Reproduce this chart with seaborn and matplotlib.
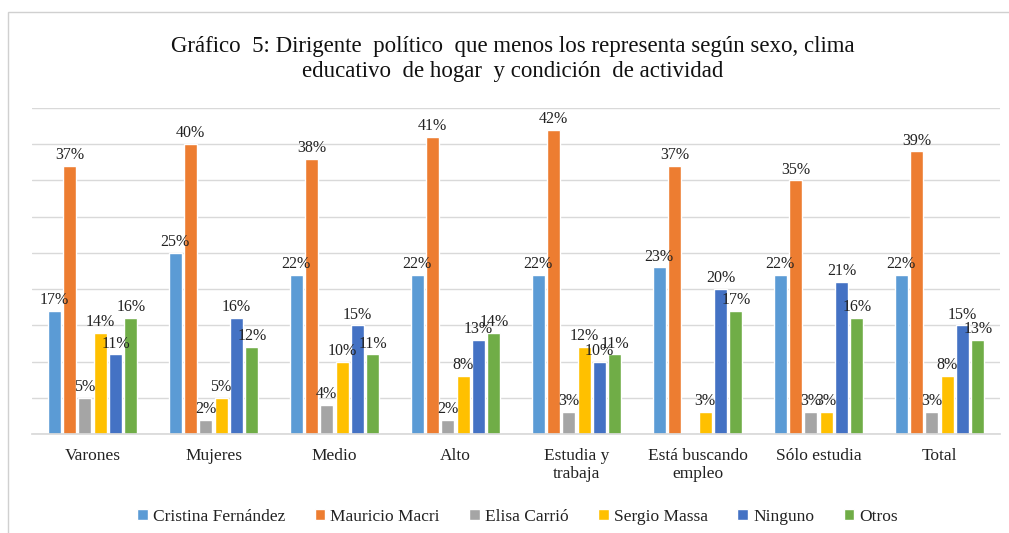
import matplotlib
matplotlib.use("Agg")
import matplotlib.pyplot as plt
import seaborn as sns
import pandas as pd
from matplotlib.patches import Rectangle

categorias = ["Varones", "Mujeres", "Medio", "Alto", "Estudia y\ntrabaja",
              "Está buscando\nempleo", "Sólo estudia", "Total"]
series = ["Cristina Fernández", "Mauricio Macri", "Elisa Carrió",
          "Sergio Massa", "Ninguno", "Otros"]
cristina = [17, 25, 22, 22, 22, 23, 22, 22]
macri = [37, 40, 38, 41, 42, 37, 35, 39]
carrio = [5, 2, 4, 2, 3, 0, 3, 3]
massa = [14, 5, 10, 8, 12, 3, 3, 8]
ninguno = [11, 16, 15, 13, 10, 20, 21, 15]
otros = [16, 12, 11, 14, 11, 17, 16, 13]
colores = ["#5B9BD5", "#ED7D31", "#A5A5A5", "#FFC000", "#4472C4", "#70AD47"]

valores = [cristina, macri, carrio, massa, ninguno, otros]
rows = []
for s, vals in zip(series, valores):
    for c, v in zip(categorias, vals):
        rows.append({"grupo": c, "serie": s, "valor": v})
df = pd.DataFrame(rows)

sns.set_theme(style="white")
plt.rcParams["font.family"] = ["Liberation Serif", "DejaVu Serif"]

fig = plt.figure(figsize=(10.09, 5.33), dpi=100)
ax = fig.add_axes([32 / 1009, 1 - 434 / 533, 968 / 1009, (434 - 108) / 533])

sns.barplot(data=df, x="grupo", y="valor", hue="serie", order=categorias,
            hue_order=series, palette=colores, width=0.76, gap=0.16,
            saturation=1, ax=ax, legend=True)

ax.set_ylim(0, 45)
ax.set_xlim(-0.5, len(categorias) - 0.5)
ax.set_yticks(range(0, 46, 5))
ax.yaxis.grid(True, color="#D9D9D9", linewidth=1)
ax.set_axisbelow(True)
ax.tick_params(axis="y", left=False, labelleft=False)
ax.tick_params(axis="x", bottom=False, labelsize=12.5, colors="#222222", pad=4)
ax.set_xlabel("")
ax.set_ylabel("")
for sp in ["left", "right", "top"]:
    ax.spines[sp].set_visible(False)
ax.spines["bottom"].set_color("#D9D9D9")

for cont, vals in zip(ax.containers, valores):
    labels = [f"{v}%" if v > 0 else "" for v in vals]
    ax.bar_label(cont, labels=labels, fontsize=11.5, color="#222222", padding=2)

handles, labs = ax.get_legend_handles_labels()
ax.legend(handles, labs, loc="center", bbox_to_anchor=(0.513, (533 - 517) / 533),
          bbox_transform=fig.transFigure, ncol=6, frameon=False, fontsize=12.5,
          handlelength=0.6, handleheight=0.6, handletextpad=0.3, columnspacing=1.7,
          labelcolor="#222222")

fig.text(0.508, 1 - 59 / 533,
         "Gráfico  5: Dirigente  político  que menos los representa según sexo, clima\n"
         "educativo  de hogar  y condición  de actividad",
         ha="center", va="center", fontsize=16.5, color="#111111", linespacing=1.25)

fig.patches.append(Rectangle((8 / 1009, -0.1), 1.2, 1.1 - 12 / 533,
                             transform=fig.transFigure, fill=False,
                             edgecolor="#D0D0D0", linewidth=1))

fig.savefig("out.png", dpi=100, facecolor="white")
